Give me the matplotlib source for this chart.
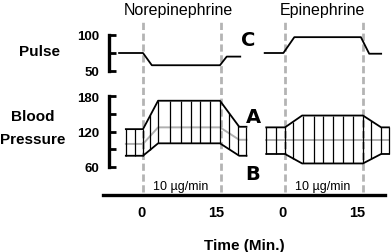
import numpy as np
import matplotlib
matplotlib.use('Agg')
import matplotlib.pyplot as plt
import matplotlib.transforms as mtransforms

plt.rcParams['font.family'] = ['Liberation Sans', 'DejaVu Sans']

W, H = 392, 253
X0, K = 143, 5.2      # pixel of norepinephrine t=0, pixels per minute
EPI_OFFSET = 27.3     # minutes between the two time origins

# infusion window (min)
infusion = [0, 15]

# pulse (beats/min)
ne_pulse_t = [-4.6, 0, 1.7, 14.8, 16.1, 18.7]
ne_pulse = [75, 75, 58, 58, 70, 70]
epi_pulse_t = [-3.9, -0.3, 1.8, 14.6, 16.2, 18.5]
epi_pulse = [75, 75, 97, 97, 74, 74]

# blood pressure (mmHg)
ne_bp_t = [-3.3, 0, 2.9, 14.8, 18.5, 19.9]
ne_sys = [124, 124, 172, 172, 128, 128]
ne_dia = [79, 79, 100, 100, 79, 79]
ne_mean = [99, 99, 127, 127, 106, 106]
ne_beats = [-3.3, -1.6, 0, 1.4, 2.9, 5.2, 7.3, 9.2, 11.0, 12.9, 14.8, 16.5, 18.3, 19.9]

epi_bp_t = [-3.6, 0, 3.3, 15.0, 18.5, 20.0]
epi_sys = [127, 127, 147, 147, 127, 127]
epi_dia = [82, 82, 66, 66, 82, 82]
epi_mean = [106, 106, 106, 106, 106, 106]
epi_beats = [-3.6, -1.8, 0, 1.6, 3.5, 5.5, 7.4, 9.3, 11.2, 13.1, 15.0, 16.6, 18.4, 20.0]

fig = plt.figure(figsize=(W / 100, H / 100), dpi=100)


def add_ax(left, right, top, bottom):
    ax = fig.add_axes([left / W, 1 - bottom / H, (right - left) / W, (bottom - top) / H])
    ax.set_xlim((left - X0) / K, (right - X0) / K)
    ax.patch.set_alpha(0)
    for s in ['top', 'right', 'bottom']:
        ax.spines[s].set_visible(False)
    ax.spines['left'].set_linewidth(2.4)
    ax.set_xticks([])
    ax.tick_params(axis='y', direction='in', length=5, width=2, pad=7, labelsize=9.5)
    return ax


# time axis + dashed infusion markers
ax_t = fig.add_axes([103 / W, 1 - 196 / H, (385 - 103) / W, (196 - 22) / H])
ax_t.set_xlim((103 - X0) / K, (385 - X0) / K)
ax_t.set_ylim(0, 1)
ax_t.patch.set_alpha(0)
for s in ['top', 'right', 'left']:
    ax_t.spines[s].set_visible(False)
ax_t.spines['bottom'].set_linewidth(2.4)
ax_t.set_yticks([])
ticks = [t for t in infusion] + [t + EPI_OFFSET for t in infusion]
ax_t.set_xticks(ticks)
ax_t.set_xticklabels([str(t) for t in infusion] * 2, fontsize=10.5, fontweight='bold')
ax_t.tick_params(axis='x', length=0, pad=7)
# labels sit a little left of the dashed lines in the original
for lbl, dx in zip(ax_t.get_xticklabels(), [-2, -5, -2, -6]):
    lbl.set_transform(lbl.get_transform() + mtransforms.ScaledTranslation(dx / 100, 0, fig.dpi_scale_trans))
ax_t.set_xlabel('Time (Min.)', fontsize=11, fontweight='bold', labelpad=14)
for off in [0, EPI_OFFSET]:
    for t in infusion:
        ax_t.axvline(t + off, ymin=0.02, ymax=1, color='#b4b4b4', lw=2,
                     ls=(0, (2.6, 1.3)), zorder=0)
    ax_t.text(off + 2.0, 0.052, '10 µg/min', fontsize=9, ha='left', va='center')

# pulse
ax_p = add_ax(109, 392, 36, 72)
ax_p.set_ylim(50, 100)
ax_p.set_yticks([50, 75, 100])
ax_p.set_yticklabels(['50', '', '100'], fontweight='bold')
ax_p.plot(ne_pulse_t, ne_pulse, color='k', lw=1.3, clip_on=False)
ax_p.plot(np.array(epi_pulse_t) + EPI_OFFSET, epi_pulse, color='k', lw=1.3, clip_on=False)

# blood pressure
ax_bp = add_ax(109, 392, 97, 168)
ax_bp.set_ylim(60, 180)
ax_bp.set_yticks([60, 90, 120, 150, 180])
ax_bp.set_yticklabels(['60', '', '120', '', '180'], fontweight='bold')

for off, t, sys_, dia, mean, beats in [
        (0, ne_bp_t, ne_sys, ne_dia, ne_mean, ne_beats),
        (EPI_OFFSET, epi_bp_t, epi_sys, epi_dia, epi_mean, epi_beats)]:
    t = np.array(t) + off
    b = np.array(beats) + off
    ax_bp.plot(t, mean, color='#b0b0b0', lw=1.4, zorder=1, clip_on=False)
    ax_bp.vlines(b, np.interp(b, t, dia), np.interp(b, t, sys_), color='k', lw=0.9,
                 zorder=2, clip_on=False)
    ax_bp.plot(t, sys_, color='k', lw=1.3, zorder=3, clip_on=False)
    ax_bp.plot(t, dia, color='k', lw=1.3, zorder=3, clip_on=False)

# labels
fig.text(178 / W, 1 - 10 / H, 'Norepinephrine', fontsize=11.5, ha='center', va='center')
fig.text(322 / W, 1 - 10 / H, 'Epinephrine', fontsize=11.5, ha='center', va='center')
fig.text(39 / W, 1 - 52 / H, 'Pulse', fontsize=11, fontweight='bold', ha='center', va='center')
fig.text(33 / W, 1 - 117 / H, 'Blood', fontsize=11, fontweight='bold', ha='center', va='center')
fig.text(33 / W, 1 - 140 / H, 'Pressure', fontsize=11, fontweight='bold', ha='center', va='center')
for letter, x, y in [('C', 248, 40), ('A', 253, 118), ('B', 253, 175)]:
    fig.text(x / W, 1 - y / H, letter, fontsize=14, fontweight='heavy', family='DejaVu Sans',
             ha='center', va='center')

fig.savefig('out.png', dpi=100)
